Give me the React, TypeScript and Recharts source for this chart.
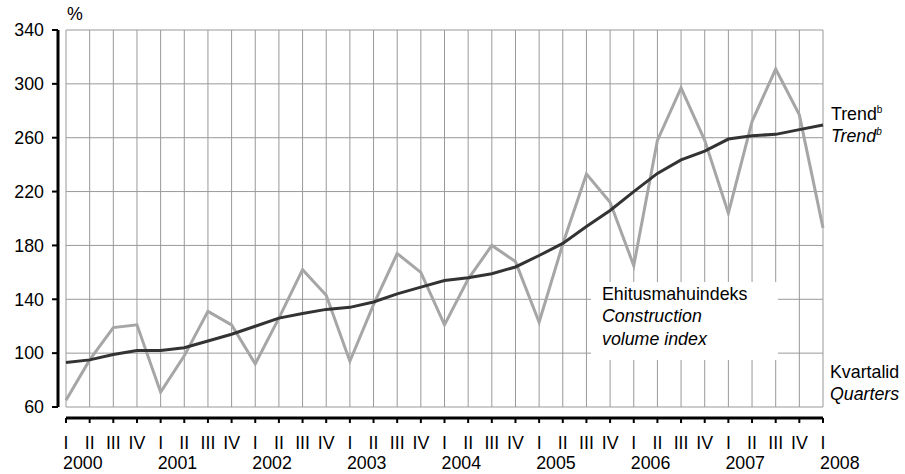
import { LineChart, Line, XAxis, YAxis, CartesianGrid } from 'recharts'

const YEARS = ['2000', '2001', '2002', '2003', '2004', '2005', '2006', '2007', '2008']
const QUARTERS = ['I', 'II', 'III', 'IV']

// Ehitusmahuindeks / Construction volume index, 2000 I .. 2008 I
const VOLUME_INDEX = [
  65, 95, 119, 121, 71, 98, 131, 121, 92, 126, 162, 143, 94, 136, 174, 160, 121, 155, 180, 168,
  123, 181, 233, 212, 165, 258, 297, 258, 204, 272, 311, 277, 193,
]

// Trend
const TREND = [
  93, 95, 99, 102, 102, 104, 109, 114, 120, 126, 129.5, 132.5, 134, 138, 144, 149, 154, 156, 159,
  164, 172.5, 181.5, 194, 206, 220, 233.5, 243.5, 250, 259, 261.5, 262.5, 266, 269.5,
]

const Y_TICKS = [60, 100, 140, 180, 220, 260, 300, 340]

const FONT = '"Liberation Sans", Arial, sans-serif'
const FS = 17.8

const chartData = VOLUME_INDEX.map((value, i) => ({
  q: i,
  index: value,
  trend: TREND[i],
}))

const X_TICKS = chartData.map((d) => d.q)

const QuarterTick = (props: any) => {
  const { x, y, payload } = props
  const i = payload.value as number
  const quarter = QUARTERS[i % 4]
  const year = i % 4 === 0 ? YEARS[i / 4] : null
  return (
    <g>
      <text x={x} y={y + 24} textAnchor="middle" fill="#000" fontSize={FS} fontFamily={FONT}>
        {quarter}
      </text>
      {year && (
        <text x={x - 3} y={y + 44} textAnchor="start" fill="#000" fontSize={FS} fontFamily={FONT}>
          {year}
        </text>
      )}
    </g>
  )
}

export default function App() {
  return (
    <div style={{ position: 'absolute', left: 0, top: 0, width: 905, height: 474, background: '#fff' }}>
      <LineChart
        width={905}
        height={474}
        data={chartData}
        margin={{ top: 30, right: 82, bottom: 0, left: 0 }}
        style={{ fontFamily: FONT }}
      >
        <XAxis
          xAxisId="inner"
          type="number"
          dataKey="q"
          domain={[0, 32]}
          ticks={X_TICKS}
          height={11}
          tick={false}
          axisLine={false}
          tickLine={false}
        />
        <XAxis
          xAxisId="outer"
          type="number"
          dataKey="q"
          domain={[0, 32]}
          ticks={X_TICKS}
          interval={0}
          height={56}
          axisLine={{ stroke: '#000', strokeWidth: 3 }}
          tickLine={{ stroke: '#000', strokeWidth: 2 }}
          tickSize={5}
          tick={<QuarterTick />}
        />
        <YAxis
          yAxisId="inner"
          domain={[60, 340]}
          ticks={Y_TICKS}
          width={8}
          tick={false}
          axisLine={false}
          tickLine={false}
        />
        <YAxis
          yAxisId="outer"
          domain={[60, 340]}
          ticks={Y_TICKS}
          interval={0}
          width={58}
          axisLine={{ stroke: '#000', strokeWidth: 3 }}
          tickLine={{ stroke: '#000', strokeWidth: 2 }}
          tickSize={6}
          tickMargin={8}
          tick={{ fill: '#000', fontSize: FS, fontFamily: FONT }}
        />
        <CartesianGrid xAxisId="outer" yAxisId="outer" stroke="#999" strokeWidth={1} />
        <Line
          xAxisId="outer"
          yAxisId="outer"
          type="linear"
          dataKey="index"
          stroke="#a6a6a6"
          strokeWidth={3}
          dot={false}
          isAnimationActive={false}
        />
        <Line
          xAxisId="outer"
          yAxisId="outer"
          type="linear"
          dataKey="trend"
          stroke="#333"
          strokeWidth={3}
          dot={false}
          isAnimationActive={false}
        />
      </LineChart>
      <svg
        width={905}
        height={474}
        style={{ position: 'absolute', left: 0, top: 0, pointerEvents: 'none' }}
        fontFamily={FONT}
        fontSize={FS}
        fill="#000"
      >
        <text x={67} y={20}>%</text>
        <text x={831} y={120}>
          Trend<tspan fontSize={10} dy={-7}>b</tspan>
        </text>
        <text x={831} y={142} fontStyle="italic">
          Trend<tspan fontSize={10} dy={-7}>b</tspan>
        </text>
        <text x={830} y={378}>Kvartalid</text>
        <text x={830} y={400} fontStyle="italic">Quarters</text>
        <rect x={591} y={282} width={187} height={78} fill="#fff" />
        <text x={602} y={300}>Ehitusmahuindeks</text>
        <text x={602} y={322} fontStyle="italic">Construction</text>
        <text x={602} y={345} fontStyle="italic">volume index</text>
      </svg>
    </div>
  )
}
